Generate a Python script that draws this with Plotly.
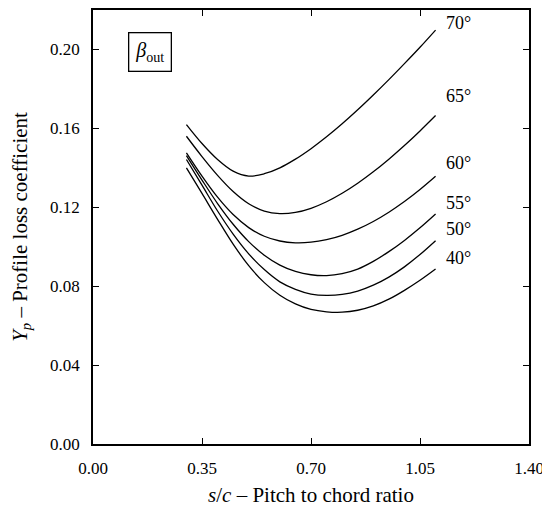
import plotly.graph_objects as go

# pitch to chord ratio s/c
s_c = [0.30, 0.35, 0.40, 0.45, 0.50, 0.55, 0.60, 0.65, 0.70,
       0.75, 0.80, 0.85, 0.90, 0.95, 1.00, 1.05, 1.10]

# outlet angle -> profile loss coefficient Yp
beta_labels = ["70°", "65°", "60°", "55°", "50°", "40°"]
yp_70 = [0.1619, 0.1523, 0.1442, 0.1383, 0.1358, 0.1370, 0.1400, 0.1444, 0.1497,
         0.1557, 0.1623, 0.1694, 0.1769, 0.1847, 0.1928, 0.2011, 0.2098]
yp_65 = [0.1560, 0.1457, 0.1362, 0.1280, 0.1218, 0.1181, 0.1168, 0.1174, 0.1195,
         0.1228, 0.1271, 0.1322, 0.1380, 0.1444, 0.1513, 0.1587, 0.1665]
yp_60 = [0.1476, 0.1358, 0.1251, 0.1163, 0.1097, 0.1053, 0.1029, 0.1020, 0.1023,
         0.1036, 0.1058, 0.1089, 0.1128, 0.1175, 0.1229, 0.1290, 0.1357]
yp_55 = [0.1462, 0.1338, 0.1219, 0.1114, 0.1026, 0.0957, 0.0907, 0.0875, 0.0858,
         0.0854, 0.0864, 0.0887, 0.0926, 0.0975, 0.1032, 0.1096, 0.1166]
yp_50 = [0.1442, 0.1312, 0.1181, 0.1064, 0.0964, 0.0884, 0.0822, 0.0784, 0.0760,
         0.0753, 0.0758, 0.0775, 0.0805, 0.0846, 0.0898, 0.0960, 0.1030]
yp_40 = [0.1400, 0.1270, 0.1139, 0.1013, 0.0904, 0.0818, 0.0754, 0.0710, 0.0682,
         0.0670, 0.0668, 0.0678, 0.0700, 0.0734, 0.0779, 0.0830, 0.0887]
label_y = [0.2132, 0.1762, 0.1425, 0.1223, 0.1089, 0.0945]

xticks = [0.00, 0.35, 0.70, 1.05, 1.40]
yticks = [0.00, 0.04, 0.08, 0.12, 0.16, 0.20]

serif = "Liberation Serif"

fig = go.Figure()
for lab, ys in zip(beta_labels, [yp_70, yp_65, yp_60, yp_55, yp_50, yp_40]):
    fig.add_trace(go.Scatter(
        x=s_c, y=ys, mode="lines", name=lab,
        line=dict(color="black", width=1.3, shape="spline", smoothing=1.0),
        showlegend=False,
    ))

for lab, ly in zip(beta_labels, label_y):
    fig.add_annotation(x=1.127, y=ly, text=lab, showarrow=False,
                       xanchor="left", yanchor="middle",
                       font=dict(family=serif, size=18, color="black"))

fig.add_annotation(x=0.184, y=0.1985, text="<i>β</i><sub>out</sub>",
                   showarrow=False, xanchor="center", yanchor="middle",
                   bordercolor="black", borderwidth=1.3, borderpad=6,
                   bgcolor="white",
                   font=dict(family=serif, size=20, color="black"))

axis_style = dict(
    showline=True, linecolor="black", linewidth=1.6, mirror="ticks",
    ticks="inside", ticklen=6, tickwidth=1.3, tickcolor="black",
    ticklabelstandoff=8,
    showgrid=False, zeroline=False,
    tickfont=dict(family=serif, size=17, color="black"),
)

fig.update_xaxes(range=[0, 1.4], tickvals=xticks,
                 ticktext=[f"{v:.2f}" for v in xticks],
                 title=dict(text="<i>s</i>/<i>c</i> – Pitch to chord ratio",
                            font=dict(family=serif, size=21, color="black"),
                            standoff=12),
                 **axis_style)
fig.update_yaxes(range=[0, 0.22], tickvals=yticks,
                 ticktext=[f"{v:.2f}" for v in yticks],
                 title=dict(text="<i>Y</i><sub><i>p</i></sub> – Profile loss coefficient",
                            font=dict(family=serif, size=21, color="black"),
                            standoff=22),
                 **axis_style)

# page body adds 8px around the figure
fig.update_layout(
    width=542, height=499,
    margin=dict(l=85, r=21, t=0, b=63),
    paper_bgcolor="white", plot_bgcolor="white",
)

fig.write_html("out.html")
